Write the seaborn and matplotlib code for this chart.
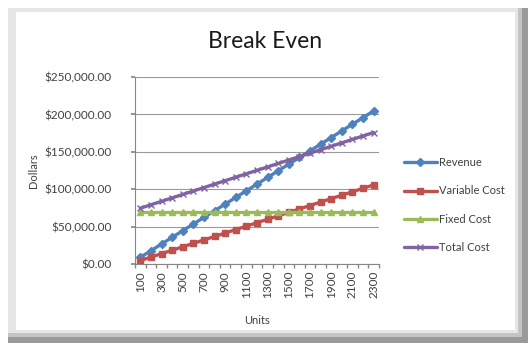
import matplotlib
matplotlib.use("Agg")
import matplotlib.pyplot as plt
from matplotlib.patches import Rectangle
from matplotlib.ticker import FuncFormatter, MultipleLocator, FixedLocator
import pandas as pd
import seaborn as sns

units = [100, 200, 300, 400, 500, 600, 700, 800, 900, 1000, 1100, 1200,
         1300, 1400, 1500, 1600, 1700, 1800, 1900, 2000, 2100, 2200, 2300]
revenue = [8900, 17800, 26700, 35600, 44500, 53400, 62300, 71200, 80100,
           89000, 97900, 106800, 115700, 124600, 133500, 142400, 151300,
           160200, 169100, 178000, 186900, 195800, 204700]
variable_cost = [4600, 9200, 13800, 18400, 23000, 27600, 32200, 36800, 41400,
                 46000, 50600, 55200, 59800, 64400, 69000, 73600, 78200,
                 82800, 87400, 92000, 96600, 101200, 105800]
fixed_cost = [70000] * 23
total_cost = [74600, 79200, 83800, 88400, 93000, 97600, 102200, 106800,
              111400, 116000, 120600, 125200, 129800, 134400, 139000, 143600,
              148200, 152800, 157400, 162000, 166600, 171200, 175800]
series_names = ["Revenue", "Variable Cost", "Fixed Cost", "Total Cost"]
x_tick_labels = [str(u) for u in units[::2]]

frames = []
for name, vals in zip(series_names, [revenue, variable_cost, fixed_cost, total_cost]):
    frames.append(pd.DataFrame({"Units": units, "Dollars": vals, "Series": name}))
df = pd.concat(frames, ignore_index=True)

sns.set_theme(style="white")
plt.rcParams["font.family"] = ["Lato", "DejaVu Sans"]

fig = plt.figure(figsize=(5.28, 3.43), dpi=100)
fig.patch.set_facecolor("white")

# bevelled frame around the chart
W, H = 528, 343
def fr(x0, y0, x1, y1, color, z):
    fig.patches.append(Rectangle((x0 / W, 1 - y1 / H), (x1 - x0) / W, (y1 - y0) / H,
                                 transform=fig.transFigure, facecolor=color,
                                 edgecolor="none", zorder=z))
fr(8, 8, 528, 343, "#9a9a9a", -10)
fr(8, 8, 522, 337, "#c4c4c4", -9)
fr(8, 8, 518, 333, "#e6e6e6", -8)
fr(16, 12, 515, 330, "white", -7)

ax = fig.add_axes([135 / W, 1 - 264 / H, (379 - 135) / W, (264 - 77) / H])
palette = {"Revenue": "#4F81BD", "Variable Cost": "#C0504D",
           "Fixed Cost": "#9BBB59", "Total Cost": "#8064A2"}
markers = {"Revenue": "D", "Variable Cost": "s", "Fixed Cost": "^", "Total Cost": "x"}
sizes = {"Revenue": 4, "Variable Cost": 5, "Fixed Cost": 4.5, "Total Cost": 4}

for name in series_names:
    sub = df[df["Series"] == name]
    sns.lineplot(data=sub, x="Units", y="Dollars", ax=ax, color=palette[name],
                 marker=markers[name], markersize=sizes[name], linewidth=2.4,
                 markeredgecolor=palette[name], markeredgewidth=1.0, label=name)

ax.set_xlim(50, 2350)
ax.set_ylim(0, 250000)
ax.yaxis.set_major_locator(MultipleLocator(50000))
ax.yaxis.set_major_formatter(FuncFormatter(lambda v, p: f"${v:,.2f}"))
ax.xaxis.set_major_locator(FixedLocator(units[::2]))
ax.set_xticklabels(x_tick_labels, rotation=90)
ax.xaxis.set_minor_locator(MultipleLocator(100, offset=50))
ax.tick_params(axis="x", which="major", length=0, labelsize=8.5, colors="#404040", pad=5)
ax.tick_params(axis="x", which="minor", length=3, color="#868686", bottom=True)
ax.tick_params(axis="y", which="major", length=3, color="#868686", left=True,
               labelsize=8.5, labelcolor="#404040", pad=14)
ax.grid(axis="y", color="#9a9a9a", linewidth=0.8)
ax.set_axisbelow(True)
for s in ["top", "right"]:
    ax.spines[s].set_visible(False)
for s in ["left", "bottom"]:
    ax.spines[s].set_color("#868686")
    ax.spines[s].set_linewidth(0.8)
ax.set_xlabel("Units", fontsize=8, color="#404040", labelpad=12)
ax.set_ylabel("Dollars", fontsize=8, color="#404040", labelpad=4)
ax.set_facecolor("none")

fig.text(265 / W, 1 - 42 / H, "Break Even", ha="center", va="center",
         fontsize=16.5, color="#1a1a1a")

leg = ax.legend(loc="center left", bbox_to_anchor=(1.06, 0.315), frameon=False,
                fontsize=8, handlelength=3.0, labelspacing=1.55, handletextpad=0.2)
for t in leg.get_texts():
    t.set_color("#404040")

fig.savefig("out.png", dpi=100)
